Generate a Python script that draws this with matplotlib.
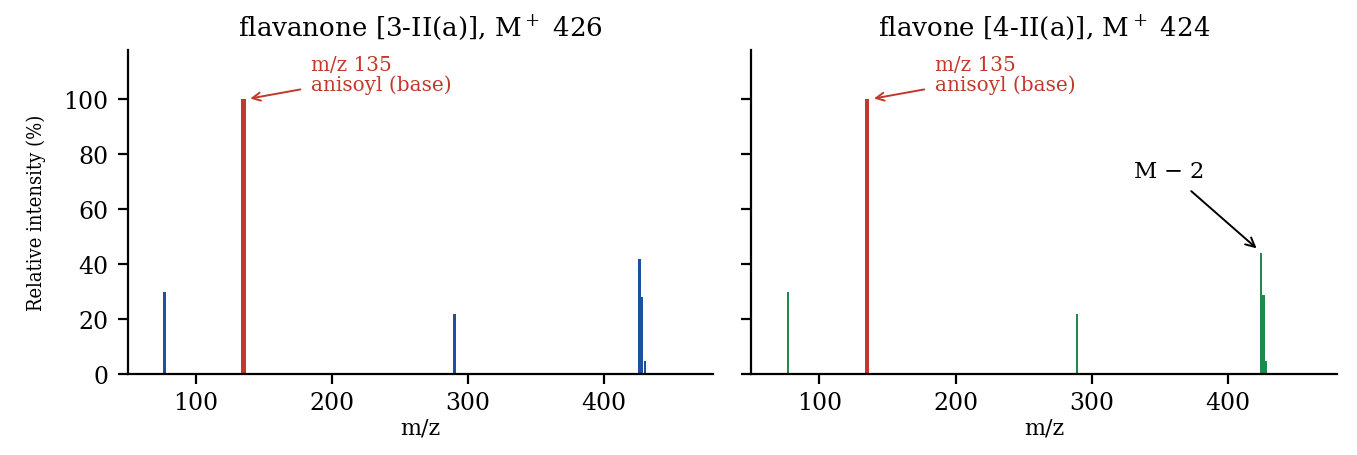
import numpy as np
import matplotlib
matplotlib.use("Agg")
import matplotlib.pyplot as plt

plt.rcParams['font.family'] = ['DejaVu Serif']
plt.rcParams['mathtext.fontset'] = 'dejavuserif'

# peak lists
mz_flavanone = [77, 135, 290, 426, 428, 430]
int_flavanone = [30, 100, 22, 42, 28, 5]
mz_flavone = [77, 135, 289, 424, 426, 428]
int_flavone = [30, 100, 22, 44, 29, 5]
base_mz = 135

titles = ["flavanone [3-II(a)], $\\mathrm{M}^+$ 426",
          "flavone [4-II(a)], $\\mathrm{M}^+$ 424"]

red = '#c0392b'
blue = '#1f4f9e'
green = '#1e8a4c'

fig = plt.figure(figsize=(6.785, 2.28), dpi=200)
ax1 = fig.add_axes([0.0941, 0.177, 0.4313, 0.7111])
ax2 = fig.add_axes([0.5537, 0.177, 0.4316, 0.7111], sharey=ax1)

for ax, mz, inten, col, title in [(ax1, mz_flavanone, int_flavanone, blue, titles[0]),
                                   (ax2, mz_flavone, int_flavone, green, titles[1])]:
    mz = np.array(mz)
    inten = np.array(inten)
    isbase = mz == base_mz
    ax.bar(mz[~isbase], inten[~isbase], width=1.7, color=col)
    ax.bar(mz[isbase], inten[isbase], width=3.4, color=red)
    ax.set_xlim(50, 480)
    ax.set_ylim(0, 118)
    ax.set_xticks([100, 200, 300, 400])
    ax.set_yticks([0, 20, 40, 60, 80, 100])
    ax.tick_params(labelsize=8.5)
    ax.tick_params(axis='x', pad=2.5)
    ax.spines['top'].set_visible(False)
    ax.spines['right'].set_visible(False)
    ax.set_xlabel("m/z", fontsize=8, labelpad=1)
    ax.set_title(title, fontsize=9.4, pad=5)
    ax.annotate("m/z 135\nanisoyl (base)", xy=(136, 100), xytext=(185, 109),
                ha='left', va='center', fontsize=7.2, color=red,
                linespacing=1.0,
                arrowprops=dict(arrowstyle='->', color=red, lw=0.7))

ax2.tick_params(labelleft=False)
ax2.annotate("M $-$ 2", xy=(424, 44.5), xytext=(356, 74),
             ha='center', va='center', fontsize=8.2,
             arrowprops=dict(arrowstyle='->', color='black', lw=0.7))

ax1.set_ylabel("Relative intensity (%)", fontsize=7.2, fontstretch='condensed',
               labelpad=6)

fig.savefig("out.png", dpi=200)
